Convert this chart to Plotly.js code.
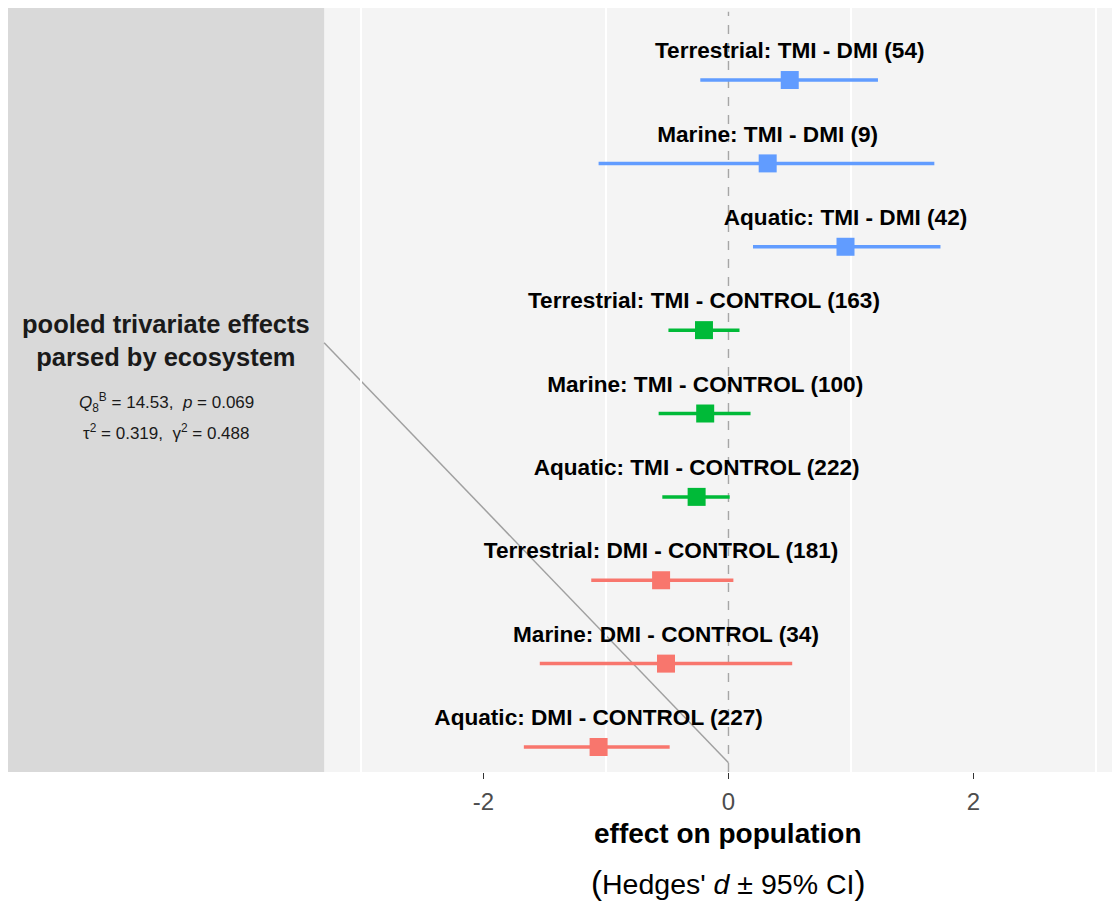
<!DOCTYPE html>
<html>
<head>
<meta charset="utf-8">
<script src="https://cdn.plot.ly/plotly-3.0.1.min.js"></script>
<style>html,body{margin:0;padding:0;background:#fff;}</style>
</head>
<body>
<div id="chart" style="width:1118px;height:904px;"></div>
<script>
// ---- data (bottom to top) ----
var labels = [
  "Aquatic: DMI - CONTROL (227)",
  "Marine: DMI - CONTROL (34)",
  "Terrestrial: DMI - CONTROL (181)",
  "Aquatic: TMI - CONTROL (222)",
  "Marine: TMI - CONTROL (100)",
  "Terrestrial: TMI - CONTROL (163)",
  "Aquatic: TMI - DMI (42)",
  "Marine: TMI - DMI (9)",
  "Terrestrial: TMI - DMI (54)"
];
var comparison = ["DMI - CONTROL","DMI - CONTROL","DMI - CONTROL",
                  "TMI - CONTROL","TMI - CONTROL","TMI - CONTROL",
                  "TMI - DMI","TMI - DMI","TMI - DMI"];
var estimate = [-1.06, -0.51, -0.55, -0.26, -0.19, -0.20, 0.955, 0.32, 0.50];
var ciLow    = [-1.67, -1.54, -1.12, -0.54, -0.57, -0.49, 0.20, -1.06, -0.23];
var ciHigh   = [-0.48,  0.52,  0.04,  0.01,  0.18,  0.09, 1.73, 1.68, 1.22];
var xTicks = [-2, 0, 2];
var statsLine1 = "<i>Q</i><sub>8</sub><sup>B</sup> = 14.53,  <i>p</i> = 0.069";
var statsLine2 = "τ<sup>2</sup> = 0.319,  γ<sup>2</sup> = 0.488";

var colorMap = {"DMI - CONTROL":"#F8766D","TMI - CONTROL":"#00BA38","TMI - DMI":"#619CFF"};
var FONT = "Liberation Sans, Arial, sans-serif";

var rows = labels.map(function(_, i){ return i + 1; });
var traces = [];
["DMI - CONTROL","TMI - CONTROL","TMI - DMI"].forEach(function(g){
  var xs=[], ys=[], plus=[], minus=[];
  for (var i=0;i<labels.length;i++){
    if (comparison[i]!==g) continue;
    xs.push(estimate[i]); ys.push(rows[i]);
    plus.push(ciHigh[i]-estimate[i]); minus.push(estimate[i]-ciLow[i]);
  }
  traces.push({
    type:"scatter", mode:"markers", x:xs, y:ys, showlegend:false,
    marker:{symbol:"square", size:18, color:colorMap[g]},
    error_x:{type:"data", symmetric:false, array:plus, arrayminus:minus,
             color:colorMap[g], thickness:3.5, width:0},
    hoverinfo:"x+y"
  });
});
// row labels
traces.push({
  type:"scatter", mode:"text", showlegend:false,
  x: estimate, y: rows.map(function(r){ return r + 0.33; }),
  text: labels.map(function(t){ return "<b>"+t+"</b>"; }),
  textposition:"middle center",
  textfont:{family:FONT, size:22.6, color:"#000000"},
  hoverinfo:"skip", cliponaxis:false
});

var xmin=-5.88, xmax=3.13, panelEdge=-3.30;
var layout = {
  width:1118, height:904,
  margin:{l:8, r:6, t:8, b:132},
  paper_bgcolor:"#FFFFFF",
  plot_bgcolor:"#F4F4F4",
  font:{family:FONT},
  xaxis:{
    range:[xmin, xmax], showgrid:false, zeroline:false,
    tickmode:"array", tickvals:xTicks, ticktext:xTicks.map(String),
    ticks:"outside", ticklen:6, tickwidth:1.2, tickcolor:"#333333",
    tickfont:{family:FONT, size:24, color:"#4D4D4D"},
    ticklabelstandoff:2,
    minor:{tickvals:[-3,-1,1,3], showgrid:true, gridcolor:"#FFFFFF", gridwidth:1.5, ticks:""},
    showline:false
  },
  yaxis:{
    range:[0.70, 9.864], showgrid:false, zeroline:false,
    showticklabels:false, ticks:"", showline:false
  },
  shapes:[
    {type:"rect", xref:"x", yref:"paper", x0:xmin, x1:panelEdge, y0:0, y1:1,
     fillcolor:"#D9D9D9", line:{width:0}, layer:"below"},
    {type:"line", xref:"x", yref:"paper", x0:0, x1:0, y0:0, y1:0.995,
     line:{color:"#A6A6A6", width:1.4, dash:"dash"}, layer:"below"},
    {type:"line", xref:"x", yref:"y", x0:panelEdge, y0:5.85, x1:0, y1:0.81,
     line:{color:"#A0A0A0", width:1.5}, layer:"below"}
  ],
  annotations:[
    {xref:"x", yref:"y", x:-4.59, y:5.87, showarrow:false, align:"center",
     text:"<b>pooled trivariate effects<br>parsed by ecosystem</b>",
     font:{family:FONT, size:25.5, color:"#1A1A1A"}},
    {xref:"x", yref:"y", x:-4.59, y:5.135, showarrow:false,
     text:statsLine1, font:{family:FONT, size:17, color:"#1A1A1A"}},
    {xref:"x", yref:"y", x:-4.59, y:4.775, showarrow:false,
     text:statsLine2, font:{family:FONT, size:17, color:"#1A1A1A"}},
    {xref:"x", yref:"paper", x:0, y:-0.080, yanchor:"middle", showarrow:false,
     text:"<b>effect on population</b>", font:{family:FONT, size:28, color:"#000000"}},
    {xref:"x", yref:"paper", x:0, y:-0.145, yanchor:"middle", showarrow:false,
     text:"<span style='font-size:33px'>(</span>Hedges' <i>d</i> ± 95% CI<span style='font-size:33px'>)</span>",
     font:{family:FONT, size:28.5, color:"#000000"}}
  ]
};

Plotly.newPlot("chart", traces, layout, {displayModeBar:false, staticPlot:true});
</script>
</body>
</html>
